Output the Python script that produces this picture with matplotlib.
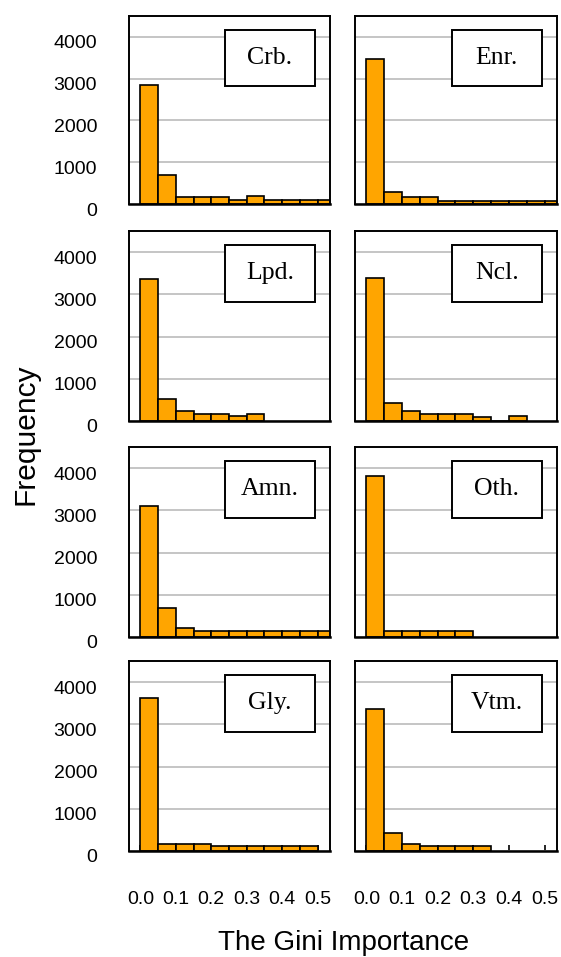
import matplotlib
matplotlib.use("Agg")
import matplotlib.pyplot as plt
import matplotlib.transforms as mtransforms
from matplotlib.patches import Rectangle

# ---------------- data ----------------
bin_lefts = [0.0, 0.05, 0.10, 0.15, 0.20, 0.25, 0.30, 0.35, 0.40, 0.45, 0.50]
bin_width = 0.05

panel_names = ["Crb.", "Enr.", "Lpd.", "Ncl.", "Amn.", "Oth.", "Gly.", "Vtm."]

crb = [2850, 690, 170, 170, 170, 100, 180, 90, 90, 90, 90]
enr = [3470, 280, 160, 160, 80, 80, 80, 80, 80, 80, 80]
lpd = [3360, 510, 240, 175, 175, 110, 175]
ncl = [3390, 430, 240, 160, 160, 160, 95, 0, 110]
amn = [3110, 680, 220, 145, 145, 145, 145, 145, 145, 145, 145]
oth = [3810, 150, 150, 150, 150, 150]
gly = [3630, 175, 175, 175, 110, 110, 110, 110, 110, 110]
vtm = [3360, 430, 175, 110, 110, 110, 110]

series = [crb, enr, lpd, ncl, amn, oth, gly, vtm]

y_ticks = [0, 1000, 2000, 3000, 4000]
y_tick_labels = ["0", "1000", "2000", "3000", "4000"]
x_ticks = [0.0, 0.1, 0.2, 0.3, 0.4, 0.5]
x_tick_labels = ["0.0", "0.1", "0.2", "0.3", "0.4", "0.5"]

x_label = "The Gini Importance"
y_label = "Frequency"

# ---------------- layout ----------------
W, H = 561, 957
fig = plt.figure(figsize=(W / 100, H / 100), dpi=100)

col_x = [(129, 201), (355, 202)]
row_y = [(16, 204), (231, 421), (447, 637), (661, 851)]

sans = ["Liberation Sans", "DejaVu Sans"]
serif = ["Liberation Serif", "DejaVu Serif"]

for i, (name, vals) in enumerate(zip(panel_names, series)):
    r, c = divmod(i, 2)
    x0, w = col_x[c]
    t, b = row_y[r]
    ax = fig.add_axes([x0 / W, 1 - b / H, w / W, (b - t) / H])
    ax.set_axisbelow(True)
    ax.bar(bin_lefts[:len(vals)], vals, width=bin_width, align="edge",
           color="#FFA500", edgecolor="black", linewidth=1.2, zorder=2)
    ax.set_xlim(-0.032, 0.535)
    ax.set_ylim(0, 4500)
    ax.set_yticks(y_ticks)
    ax.set_xticks(x_ticks)
    ax.yaxis.grid(True, color="#C0C0C0", linewidth=1.3)
    ax.xaxis.grid(False)
    for sp in ax.spines.values():
        sp.set_linewidth(1.4)
        sp.set_color("black")
    ax.spines["bottom"].set_linewidth(1.8)
    ax.tick_params(axis="y", length=0, pad=23, labelsize=14)
    ax.tick_params(axis="x", direction="in",
                   length=4.5 if r == 3 else 0, width=1.2, pad=29,
                   labelsize=14)
    if c == 0:
        ax.set_yticklabels(y_tick_labels, fontfamily=sans)
        off = mtransforms.ScaledTranslation(0, -5 / 100, fig.dpi_scale_trans)
        for lbl in ax.get_yticklabels():
            lbl.set_transform(lbl.get_transform() + off)
    else:
        ax.set_yticklabels([])
    if r == 3:
        ax.set_xticklabels(x_tick_labels, fontfamily=sans)
    else:
        ax.set_xticklabels([])
    # label box
    ax.add_patch(Rectangle((0.478, 0.628), 0.447, 0.298, transform=ax.transAxes,
                           facecolor="white", edgecolor="black", linewidth=1.4,
                           zorder=5))
    ax.text(0.7015, 0.777, name, transform=ax.transAxes, ha="center",
            va="center", fontsize=18.5, fontfamily=serif, zorder=6)

fig.text(25 / W, 1 - 434 / H, y_label, rotation=90, ha="center", va="center",
         fontsize=21.5, fontfamily=sans)
fig.text(344 / W, 1 - 943 / H, x_label, ha="center", va="center",
         fontsize=20, fontfamily=sans)

fig.savefig("out.png", dpi=100)
